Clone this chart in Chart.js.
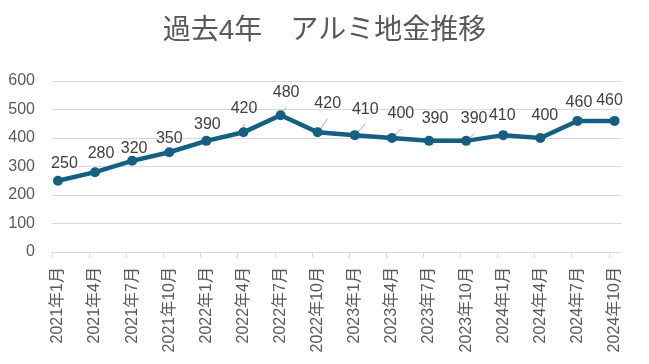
<!DOCTYPE html>
<html>
<head>
<meta charset="utf-8">
<script src="https://cdn.jsdelivr.net/npm/chart.js@4/dist/chart.umd.min.js"></script>
<style>
  html, body { margin: 0; padding: 0; background: #fff; }
  canvas { display: block; }
</style>
</head>
<body>
<canvas id="chart" width="649" height="364"></canvas>
<script>
const titleText = '過去4年　アルミ地金推移';
const months = [
    '2021年1月', '2021年4月', '2021年7月', '2021年10月',
    '2022年1月', '2022年4月', '2022年7月', '2022年10月',
    '2023年1月', '2023年4月', '2023年7月', '2023年10月',
    '2024年1月', '2024年4月', '2024年7月', '2024年10月'
];
const prices = [250, 280, 320, 350, 390, 420, 480, 420, 410, 400, 390, 390, 410, 400, 460, 460];
const yMin = 0;
const yMax = 600;
const yStep = 100;

// label placement (px from the point) and which labels get a leader line
const labelOffsets = [
    [6.5, -17], [6, -19], [2, -12.5], [0, -13.5], [1, -16.5], [0.5, -23.5], [5.5, -22.5], [10, -28.5],
    [10.5, -26], [9, -24], [6, -22], [8, -22], [-1, -19.5], [4.5, -22.5], [1.5, -18], [-5, -20.5]
];
const leaderLines = [0, 0, 0, 0, 0, 1, 1, 1, 1, 1, 0, 1, 0, 0, 0, 0];

const fontFamily = "'Liberation Sans', 'Noto Sans CJK JP', sans-serif";
const lineColor = '#156082';
const gridColor = '#d9d9d9';
const tickColor = '#595959';

// tick marks under the category axis, sitting a little left of each point
const tickMarks = {
    id: 'tickMarks',
    afterDraw(chart) {
        const { ctx, chartArea, scales: { x } } = chart;
        ctx.save();
        ctx.strokeStyle = gridColor;
        ctx.lineWidth = 1;
        months.forEach((m, i) => {
            const px = Math.round(x.getPixelForValue(i) - 6) + 0.5;
            ctx.beginPath();
            ctx.moveTo(px, chartArea.bottom);
            ctx.lineTo(px, chartArea.bottom + 6);
            ctx.stroke();
        });
        ctx.restore();
    }
};

// value labels with the short leader lines
const valueLabels = {
    id: 'valueLabels',
    beforeDatasetsDraw(chart) {
        const { ctx } = chart;
        const pts = chart.getDatasetMeta(0).data;
        ctx.save();
        ctx.strokeStyle = '#a6a6a6';
        ctx.lineWidth = 1;
        pts.forEach((p, i) => {
            if (!leaderLines[i]) return;
            const [dx, dy] = labelOffsets[i];
            ctx.beginPath();
            ctx.moveTo(p.x, p.y);
            ctx.lineTo(p.x + dx, p.y + dy + 15);
            ctx.stroke();
        });
        ctx.restore();
    },
    afterDatasetsDraw(chart) {
        const { ctx } = chart;
        const pts = chart.getDatasetMeta(0).data;
        ctx.save();
        ctx.font = '16px ' + fontFamily;
        ctx.fillStyle = '#404040';
        ctx.textAlign = 'center';
        ctx.textBaseline = 'middle';
        pts.forEach((p, i) => {
            const [dx, dy] = labelOffsets[i];
            ctx.fillText(String(prices[i]), p.x + dx, p.y + dy);
        });
        ctx.restore();
    }
};

const ctx = document.getElementById('chart').getContext('2d');
new Chart(ctx, {
    type: 'line',
    data: {
        datasets: [{
            label: 'アルミ地金',
            data: prices.map((v, i) => ({ x: i, y: v })),
            borderColor: lineColor,
            backgroundColor: lineColor,
            borderWidth: 4.5,
            pointRadius: 5,
            pointBorderWidth: 0,
            pointBackgroundColor: lineColor,
            tension: 0,
            fill: false
        }]
    },
    options: {
        responsive: false,
        animation: false,
        layout: { padding: 0 },
        plugins: {
            legend: { display: false },
            tooltip: { enabled: false },
            title: {
                display: true,
                text: titleText,
                color: tickColor,
                font: { size: 28, family: fontFamily, weight: 'normal' },
                padding: { top: 14, bottom: 33.4 }
            }
        },
        scales: {
            x: {
                type: 'linear',
                min: -0.16,
                max: 15.19,
                afterBuildTicks: (scale) => {
                    scale.ticks = months.map((m, i) => ({ value: i }));
                },
                afterFit: (scale) => { scale.height = 112; },
                grid: { display: false, drawTicks: false },
                border: { display: false },
                ticks: {
                    autoSkip: false,
                    minRotation: 90,
                    maxRotation: 90,
                    padding: 15,
                    color: tickColor,
                    font: { size: 16, family: fontFamily },
                    callback: (v) => months[v]
                }
            },
            y: {
                min: yMin,
                max: yMax,
                afterFit: (scale) => { scale.width = 52; },
                grid: { color: gridColor, drawTicks: false },
                border: { display: false },
                ticks: {
                    stepSize: yStep,
                    padding: 17,
                    color: tickColor,
                    font: { size: 16, family: fontFamily }
                }
            },
            // empty right-hand strip so the plot ends where the reference does
            yRight: {
                position: 'right',
                min: yMin,
                max: yMax,
                afterFit: (scale) => { scale.width = 19; },
                grid: { display: false, drawTicks: false },
                border: { display: false },
                ticks: { display: false }
            }
        }
    },
    plugins: [tickMarks, valueLabels]
});
</script>
</body>
</html>
